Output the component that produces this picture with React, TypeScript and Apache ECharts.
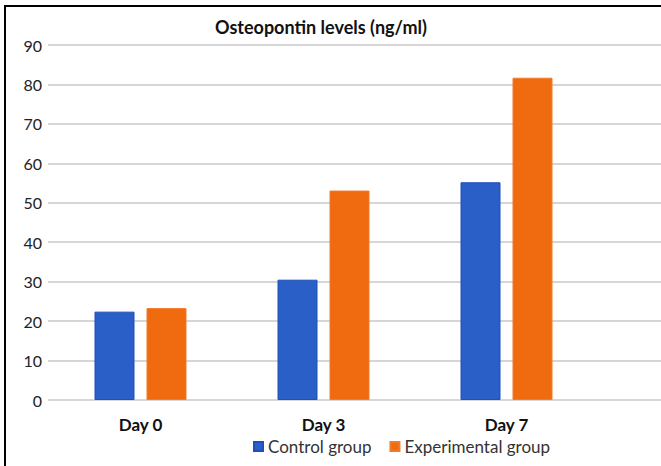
import React, { useEffect, useRef } from "react";
import * as echarts from "echarts";

const categories = ["Day 0", "Day 3", "Day 7"];
const controlValues = [22.4, 30.5, 55.2];
const experimentalValues = [23.3, 53.1, 81.7];
const yTicks = { min: 0, max: 90, interval: 10 };
const titleText = "Osteopontin levels (ng/ml)";
const seriesNames = ["Control group", "Experimental group"];

const FONT = "Lato, 'Open Sans', sans-serif";

export default function App() {
  const ref = useRef<HTMLDivElement>(null);
  useEffect(() => {
    if (!ref.current) return;
    const chart = echarts.init(ref.current, null, { renderer: "svg" });
    chart.setOption({
      animation: false,
      backgroundColor: "#ffffff",
      title: {
        text: titleText,
        left: 210,
        top: 13,
        textStyle: { fontFamily: FONT, fontSize: 18, fontWeight: "bold", color: "#111" },
      },
      legend: {
        data: seriesNames,
        left: 253,
        top: 438,
        padding: 0,
        itemWidth: 9,
        itemHeight: 9,
        itemGap: 18,
        icon: "rect",
        textStyle: { fontFamily: FONT, fontSize: 17, color: "#333" },
      },
      grid: [
        { left: 48, right: 0, top: 45, bottom: 66, containLabel: false },
        { left: 49, width: 549, top: 45, bottom: 66, containLabel: false },
      ],
      xAxis: [
        { type: "category", gridIndex: 0, data: categories, show: false },
        {
          type: "category",
          gridIndex: 1,
          data: categories,
          axisLine: { show: false },
          axisTick: { show: false },
          axisLabel: {
            fontFamily: FONT,
            fontSize: 17,
            fontWeight: "bold",
            color: "#111",
            margin: 16,
          },
        },
      ],
      yAxis: [
        {
          type: "value",
          gridIndex: 0,
          min: yTicks.min,
          max: yTicks.max,
          interval: yTicks.interval,
          axisLine: { show: false },
          axisTick: { show: false },
          splitLine: { lineStyle: { color: "#c8c8c8", width: 1.5 } },
          axisLabel: { fontFamily: FONT, fontSize: 16, color: "#222", margin: 6 },
        },
        {
          type: "value",
          gridIndex: 1,
          min: yTicks.min,
          max: yTicks.max,
          interval: yTicks.interval,
          show: false,
          splitLine: { show: false },
        },
      ],
      series: [
        {
          name: seriesNames[0],
          type: "bar",
          xAxisIndex: 1,
          yAxisIndex: 1,
          data: controlValues,
          barWidth: 40,
          barGap: "30%",
          itemStyle: { color: "#2a5fc8", borderColor: "#1f4fb8", borderWidth: 1 },
        },
        {
          name: seriesNames[1],
          type: "bar",
          xAxisIndex: 1,
          yAxisIndex: 1,
          data: experimentalValues,
          barWidth: 40,
          barGap: "30%",
          itemStyle: { color: "#f06a10", borderColor: "#f27a2a", borderWidth: 1 },
        },
      ],
      graphic: [
        { type: "line", shape: { x1: 4, y1: 6, x2: 661, y2: 6 }, style: { stroke: "#000", lineWidth: 2 } },
        { type: "line", shape: { x1: 5, y1: 5, x2: 5, y2: 466 }, style: { stroke: "#000", lineWidth: 2 } },
      ],
    });
    return () => chart.dispose();
  }, []);
  return (
    <div
      ref={ref}
      style={{ position: "absolute", left: 0, top: 0, width: 661, height: 466 }}
    />
  );
}
